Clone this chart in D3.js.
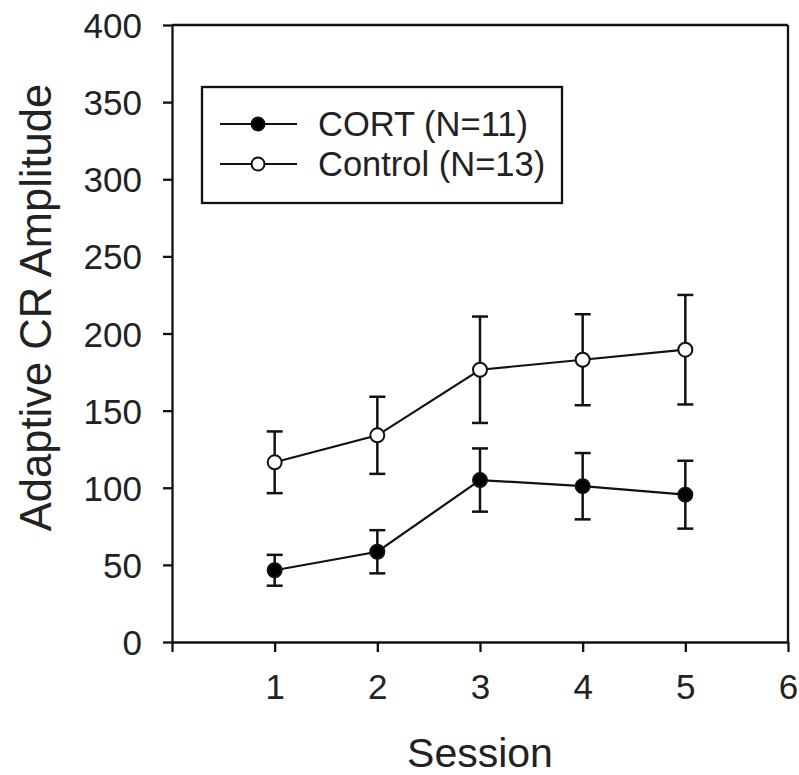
<!DOCTYPE html>
<html>
<head>
<meta charset="utf-8">
<script src="https://cdn.jsdelivr.net/npm/d3@7"></script>
<style>
  html, body { margin: 0; padding: 0; background: #fff; }
  svg text { font-family: "Liberation Sans", Arial, sans-serif; fill: #222; }
</style>
</head>
<body>
<svg id="chart" width="799" height="775"></svg>
<script>
// Session means and standard errors per group
const sessions = [1, 2, 3, 4, 5];
const cortMean = [46.5, 58.5, 105, 101, 95.5];
const cortSE = [10, 14, 20.5, 21.5, 22];
const controlMean = [116.5, 134, 176.5, 183, 189.5];
const controlSE = [20, 25, 34.5, 29.5, 35.5];

const xTicks = [0, 1, 2, 3, 4, 5, 6];
const yTicks = [0, 50, 100, 150, 200, 250, 300, 350, 400];

const groups = [
  { name: "CORT (N=11)", mean: cortMean, se: cortSE, fill: "#000" },
  { name: "Control (N=13)", mean: controlMean, se: controlSE, fill: "#fff" }
];

const svg = d3.select("#chart");
const x = d3.scaleLinear().domain([0, 6]).range([172, 788]);
const y = d3.scaleLinear().domain([0, 400]).range([642, 25]);

const ink = "#111";

// Axes with outward ticks
const yAxis = d3.axisLeft(y).tickValues(yTicks).tickSize(9).tickSizeOuter(0).tickPadding(21);
const xAxis = d3.axisBottom(x).tickValues(xTicks).tickSize(10).tickSizeOuter(0).tickPadding(22)
  .tickFormat(d => d === 0 ? "" : d);

const gy = svg.append("g").attr("transform", `translate(${x(0)},0)`).call(yAxis);
const gx = svg.append("g").attr("transform", `translate(0,${y(0)})`).call(xAxis);

[gx, gy].forEach(g => {
  g.select(".domain").attr("stroke", ink).attr("stroke-width", 2.3);
  g.selectAll(".tick line").attr("stroke", ink).attr("stroke-width", 2.3);
  g.selectAll(".tick text").attr("font-size", 35).attr("fill", "#222")
    .style("font-family", "'Liberation Sans', Arial, sans-serif");
});
gy.selectAll(".tick text").attr("dy", "0.36em");
gx.selectAll(".tick text").attr("dy", "0.71em");

// Top and right frame lines
svg.append("line").attr("x1", x(0)).attr("x2", x(6)).attr("y1", y(400)).attr("y2", y(400))
  .attr("stroke", ink).attr("stroke-width", 2.3);
svg.append("line").attr("x1", x(6)).attr("x2", x(6)).attr("y1", y(400)).attr("y2", y(0))
  .attr("stroke", ink).attr("stroke-width", 2.3);

// Axis titles
svg.append("text")
  .attr("x", x(3)).attr("y", 767)
  .attr("text-anchor", "middle").attr("font-size", 41)
  .text("Session");

svg.append("text")
  .attr("transform", `translate(51,${(y(0) + y(400)) / 2 - 26}) rotate(-90)`)
  .attr("text-anchor", "middle").attr("font-size", 43.5)
  .text("Adaptive CR Amplitude");

const capW = 8;
groups.forEach(gr => {
  const pts = sessions.map((s, i) => ({ s, m: gr.mean[i], e: gr.se[i] }));
  const g = svg.append("g");

  // Error bars
  const eb = g.selectAll(".eb").data(pts).enter().append("g");
  eb.append("line")
    .attr("x1", d => x(d.s)).attr("x2", d => x(d.s))
    .attr("y1", d => y(d.m + d.e)).attr("y2", d => y(d.m - d.e))
    .attr("stroke", ink).attr("stroke-width", 2.5);
  eb.append("line")
    .attr("x1", d => x(d.s) - capW).attr("x2", d => x(d.s) + capW)
    .attr("y1", d => y(d.m + d.e)).attr("y2", d => y(d.m + d.e))
    .attr("stroke", ink).attr("stroke-width", 2.5);
  eb.append("line")
    .attr("x1", d => x(d.s) - capW).attr("x2", d => x(d.s) + capW)
    .attr("y1", d => y(d.m - d.e)).attr("y2", d => y(d.m - d.e))
    .attr("stroke", ink).attr("stroke-width", 2.5);

  // Connecting line
  g.append("path")
    .datum(pts)
    .attr("fill", "none").attr("stroke", ink).attr("stroke-width", 2.2)
    .attr("d", d3.line().x(d => x(d.s)).y(d => y(d.m)));

  // Markers
  g.selectAll(".pt").data(pts).enter().append("circle")
    .attr("cx", d => x(d.s)).attr("cy", d => y(d.m)).attr("r", 7)
    .attr("fill", gr.fill).attr("stroke", ink).attr("stroke-width", 2);
});

// Legend
const legend = svg.append("g");
legend.append("rect")
  .attr("x", 202).attr("y", 87).attr("width", 360).attr("height", 116)
  .attr("fill", "#fff").attr("stroke", ink).attr("stroke-width", 2.3);

const rowY = [124, 164];
groups.forEach((gr, i) => {
  legend.append("line")
    .attr("x1", 220).attr("x2", 297).attr("y1", rowY[i]).attr("y2", rowY[i])
    .attr("stroke", ink).attr("stroke-width", 2.2);
  legend.append("circle")
    .attr("cx", 258).attr("cy", rowY[i]).attr("r", 6.5)
    .attr("fill", gr.fill).attr("stroke", ink).attr("stroke-width", 2);
  legend.append("text")
    .attr("x", 318).attr("y", rowY[i] + 12)
    .attr("font-size", 34.5)
    .text(gr.name);
});
</script>
</body>
</html>
